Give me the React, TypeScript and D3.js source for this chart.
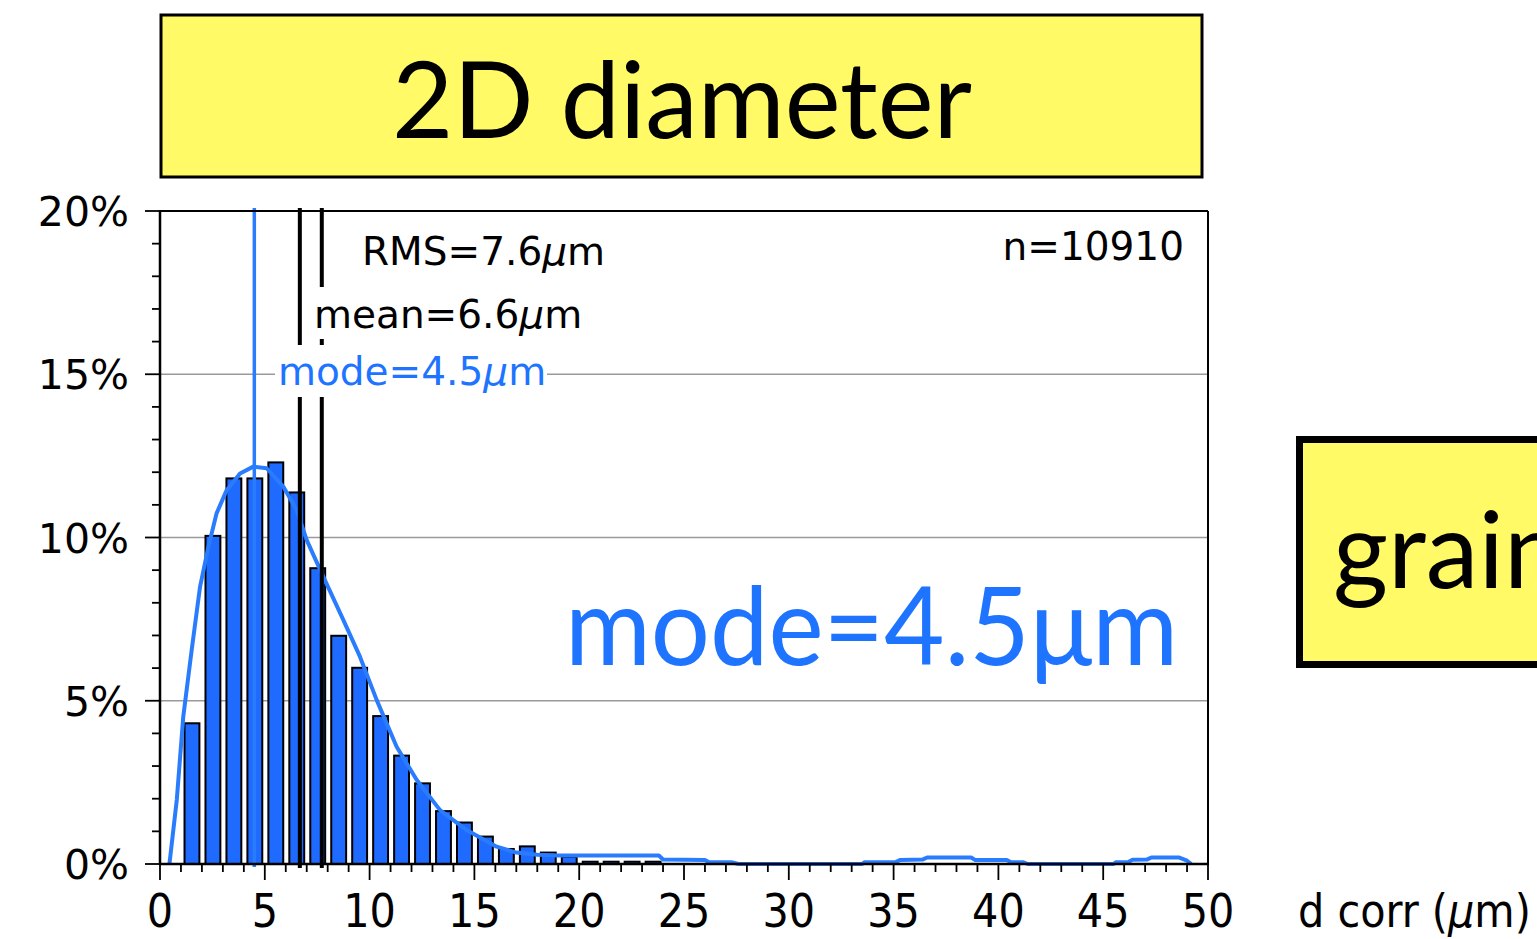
import React from "react";
import * as d3 from "d3";

// ---- data ----
const binStarts = [1, 2, 3, 4, 5, 6, 7, 8, 9, 10, 11, 12, 13, 14, 15, 16, 17, 18, 19, 20, 21, 22, 23];
const binPercents = [4.31, 10.05, 11.81, 11.81, 12.3, 11.38, 9.06, 6.99, 6.01, 4.53, 3.32, 2.47, 1.62, 1.27, 0.84, 0.46, 0.54, 0.35, 0.22, 0.07, 0.07, 0.07, 0.07];

const curveX = [0.45, 0.8, 1.11, 1.51, 1.91, 2.31, 2.7, 3.18, 3.82, 4.45, 5.09, 5.88, 6.52, 7.0, 7.79, 8.75, 9.54, 10.34, 11.29, 12.25, 13.36, 14.63, 16.06, 17, 18, 19, 23.8, 24, 26, 26.2, 27.3, 27.6, 33.5, 33.6, 35.1, 35.3, 36.4, 36.6, 38.7, 38.9, 40.4, 40.6, 41.2, 41.4, 45.5, 45.6, 46.2, 46.4, 47.1, 47.3, 48.6, 49.0, 49.2];
const curveY = [0, 1.96, 4.51, 6.55, 8.49, 9.72, 10.74, 11.45, 11.96, 12.17, 12.12, 11.56, 10.84, 9.92, 8.8, 7.47, 6.35, 5.02, 3.59, 2.57, 1.65, 1.04, 0.53, 0.35, 0.28, 0.26, 0.26, 0.14, 0.12, 0.05, 0.05, 0, 0, 0.05, 0.06, 0.12, 0.14, 0.2, 0.2, 0.12, 0.12, 0.05, 0.05, 0, 0, 0.05, 0.06, 0.13, 0.14, 0.2, 0.2, 0.1, 0];

const yTicks = [0, 5, 10, 15, 20];
const yTickLabels = ["0%", "5%", "10%", "15%", "20%"];
const xTicks = [0, 5, 10, 15, 20, 25, 30, 35, 40, 45, 50];

const modeValue = 4.5;
const meanValue = 6.6;
const rmsValue = 7.6;

const titleText = "2D diameter";
const sideText = "grain size";
const bigModeText = "mode=4.5μm";
const nText = "n=10910";

export default function App() {
  const L = 160, R = 1208, T = 211, B = 864;
  const x = d3.scaleLinear().domain([0, 50]).range([L, R]);
  const y = d3.scaleLinear().domain([0, 20]).range([B, T]);

  const barColor = "#1F6BFF";
  const lineColor = "#2A7CFF";
  const labelBlue = "#1E74FF";
  const yellow = "#FFFA66";

  const pts = curveX.map((v, i) => [v, curveY[i]] as [number, number]);
  const line = d3.line<[number, number]>().x((d) => x(d[0])).y((d) => y(d[1])).curve(d3.curveLinear);

  const minorX = d3.range(0, 51, 1);
  const minorY = d3.range(0, 21, 1);

  const annFont = "'DejaVu Sans', Verdana, sans-serif";
  const condFont = "'DejaVu Sans Condensed', 'DejaVu Sans', sans-serif";
  const gillFont = "Lato, 'Open Sans', sans-serif";

  return (
    <svg width={1537} height={939} style={{ position: "absolute", left: 0, top: 0, display: "block", background: "#fff" }}>
      {/* title box */}
      <rect x={161} y={15} width={1041} height={162} fill={yellow} stroke="#000" strokeWidth={3} />
      <text x={392} y={138} fontFamily={gillFont} fontSize={106} textLength={580} lengthAdjust="spacingAndGlyphs" fill="#000">{titleText}</text>

      {/* side box */}
      <rect x={1299.5} y={439.5} width={260} height={225} fill={yellow} stroke="#000" strokeWidth={7} />
      <text x={1333} y={588} fontFamily={gillFont} fontSize={106} fill="#000">{sideText}</text>

      {/* gridlines */}
      {[5, 10, 15].map((v) => (
        <line key={"g" + v} x1={L} x2={R} y1={y(v)} y2={y(v)} stroke="#9a9a9a" strokeWidth={1.5} />
      ))}

      {/* bars */}
      {binStarts.map((s, i) => (
        <rect key={"b" + s} x={x(s + 0.17)} y={y(binPercents[i])} width={x(s + 0.88) - x(s + 0.17)} height={B - y(binPercents[i])} fill={barColor} stroke="#000" strokeWidth={2} />
      ))}

      {/* curve */}
      <path d={line(pts) || ""} fill="none" stroke={lineColor} strokeWidth={4} strokeLinejoin="round" />

      {/* stat lines */}
      <line x1={x(modeValue)} x2={x(modeValue)} y1={208} y2={B + 3} stroke={lineColor} strokeWidth={3.5} />
      <line x1={x(meanValue) + 1.5} x2={x(meanValue) + 1.5} y1={208} y2={B + 4} stroke="#000" strokeWidth={4} />
      <line x1={x(rmsValue) + 2.5} x2={x(rmsValue) + 2.5} y1={208} y2={B + 4} stroke="#000" strokeWidth={4} />

      {/* frame */}
      <line x1={L} x2={R} y1={T} y2={T} stroke="#000" strokeWidth={2} />
      <line x1={R} x2={R} y1={T} y2={B} stroke="#000" strokeWidth={2} />
      <line x1={L} x2={L} y1={T - 1} y2={B + 1} stroke="#000" strokeWidth={2.5} />
      <line x1={L - 1} x2={R + 1} y1={B} y2={B} stroke="#000" strokeWidth={2.5} />

      {/* y ticks */}
      {minorY.map((v) => (
        <line key={"yt" + v} x1={v % 5 === 0 ? L - 15 : L - 8} x2={v % 5 === 0 ? L + 1 : L} y1={y(v)} y2={y(v)} stroke="#000" strokeWidth={1.8} />
      ))}
      {yTicks.map((v, i) => (
        <text key={"yl" + v} x={129} y={y(v) + 15} textAnchor="end" fontFamily={annFont} fontSize={41} fill="#000">{yTickLabels[i]}</text>
      ))}

      {/* x ticks */}
      {minorX.map((v) => (
        <line key={"xt" + v} x1={x(v)} x2={x(v)} y1={B} y2={v % 5 === 0 ? B + 16 : B + 8} stroke="#000" strokeWidth={1.8} />
      ))}
      {xTicks.map((v) => (
        <text key={"xl" + v} x={x(v)} y={927} textAnchor="middle" fontFamily={condFont} fontSize={46} fill="#000">{String(v)}</text>
      ))}
      <text x={1298} y={927} fontFamily={condFont} fontSize={46} fill="#000">
        d corr (<tspan fontStyle="italic">μ</tspan>m)
      </text>

      {/* annotations */}
      <text x={362} y={265} fontFamily={annFont} fontSize={39} fill="#000">
        RMS={rmsValue}<tspan fontStyle="italic">μ</tspan>m
      </text>
      <rect x={312} y={287} width={270} height={52} fill="#fff" />
      <text x={314} y={328} fontFamily={annFont} fontSize={39} fill="#000">
        mean={meanValue}<tspan fontStyle="italic">μ</tspan>m
      </text>
      <rect x={275} y={345} width={272} height={52} fill="#fff" />
      <text x={278} y={385} fontFamily={annFont} fontSize={39} fill={labelBlue}>
        mode={modeValue}<tspan fontStyle="italic">μ</tspan>m
      </text>
      <text x={1184} y={260} textAnchor="end" fontFamily={annFont} fontSize={39} fill="#000">{nText}</text>

      {/* big mode label */}
      <text x={565} y={665} fontFamily={gillFont} fontSize={108} textLength={613} lengthAdjust="spacingAndGlyphs" fill={labelBlue}>{bigModeText}</text>
    </svg>
  );
}
